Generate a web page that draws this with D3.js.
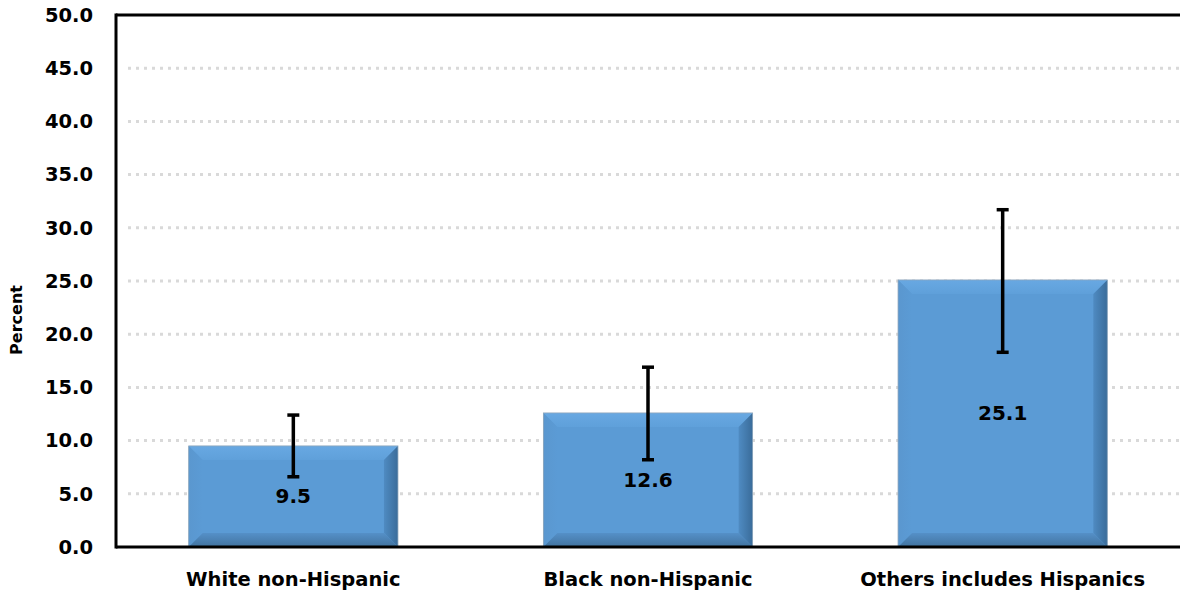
<!DOCTYPE html>
<html><head><meta charset="utf-8">
<script src="https://cdn.jsdelivr.net/npm/d3@7"></script>
<style>body{margin:0;background:#fff}svg{display:block}text{font-family:"DejaVu Sans",sans-serif;font-weight:bold;fill:#000}</style>
</head><body><svg id="c" width="1180" height="592"></svg>
<script>
const categories=["White non-Hispanic","Black non-Hispanic","Others includes Hispanics"];
const values=[9.5,12.6,25.1];
const lower=[6.6,8.2,18.3];
const upper=[12.4,16.9,31.7];
const ticks=[0,5,10,15,20,25,30,35,40,45,50];

const svg=d3.select("#c");
const m={l:116,r:0,t:15,b:45};
const W=1180,H=592;
const x=d3.scaleBand().domain(categories).range([m.l,W-m.r]).paddingInner(0.41).paddingOuter(0.205);
const y=d3.scaleLinear().domain([0,50]).range([H-m.b,m.t]);

const defs=svg.append("defs");
const mk=(id,x2,y2,stops)=>{const lg=defs.append("linearGradient").attr("id",id).attr("x1",0).attr("y1",0).attr("x2",x2).attr("y2",y2);
 stops.forEach(s=>lg.append("stop").attr("offset",s[0]).attr("stop-color",s[1]));};
mk("gR",1,0,[[0,"#4f8bc2"],[1,"#3a6c9a"]]);
mk("gL",1,0,[[0,"#5a97cf"],[1,"#5b9bd5"]]);
mk("gT",0,1,[[0,"#68a8e2"],[1,"#5fa0da"]]);
mk("gB",0,1,[[0,"#5590c8"],[1,"#41739f"]]);

// grid
svg.append("g").selectAll("line").data(ticks.filter(t=>t>0&&t<50)).join("line")
 .attr("x1",m.l+12).attr("x2",W).attr("y1",d=>y(d)).attr("y2",d=>y(d))
 .attr("stroke","#d9d9d9").attr("stroke-width",3).attr("stroke-dasharray","3,5");

// bars with bevel
const bev=14;
const g=svg.append("g");
categories.forEach((c,i)=>{
  const x0=x(c),x1=x0+x.bandwidth(),y0=y(values[i]),y1=y(0);
  const b=Math.min(bev,(y1-y0)/2);
  const gg=g.append("g");
  gg.append("rect").attr("x",x0).attr("y",y0).attr("width",x1-x0).attr("height",y1-y0).attr("fill","#5b9bd5");
  const poly=(pts,f)=>gg.append("polygon").attr("points",pts.map(p=>p.join(",")).join(" ")).attr("fill",f);
  poly([[x0,y0],[x1,y0],[x1-b,y0+b],[x0+b,y0+b]],"url(#gT)");
  poly([[x0,y0],[x0+b,y0+b],[x0+b,y1-b],[x0,y1]],"url(#gL)");
  poly([[x1,y0],[x1,y1],[x1-b,y1-b],[x1-b,y0+b]],"url(#gR)");
  poly([[x0,y1],[x1,y1],[x1-b,y1-b],[x0+b,y1-b]],"url(#gB)");
  gg.append("rect").attr("x",x0).attr("y",y0).attr("width",x1-x0).attr("height",y1-y0).attr("fill","none").attr("stroke","#8fa6bb").attr("stroke-width",0.8);
});

// error bars
const eb=svg.append("g");
categories.forEach((c,i)=>{
  const cx=x(c)+x.bandwidth()/2;
  eb.append("line").attr("x1",cx).attr("x2",cx).attr("y1",y(upper[i])).attr("y2",y(lower[i])).attr("stroke","#000").attr("stroke-width",3.5);
  [upper[i],lower[i]].forEach(v=>eb.append("line").attr("x1",cx-6).attr("x2",cx+6).attr("y1",y(v)).attr("y2",y(v)).attr("stroke","#000").attr("stroke-width",3.5));
});

// value labels
svg.append("g").selectAll("text").data(values).join("text")
 .attr("x",(d,i)=>x(categories[i])+x.bandwidth()/2).attr("y",d=>(y(d)+y(0))/2)
 .attr("text-anchor","middle").attr("dominant-baseline","central").style("font-size","20px").text(d=>d.toFixed(1));

// axes frame
svg.append("line").attr("x1",m.l).attr("x2",W).attr("y1",y(50)).attr("y2",y(50)).attr("stroke","#000").attr("stroke-width",3);
svg.append("line").attr("x1",m.l).attr("x2",W).attr("y1",y(0)).attr("y2",y(0)).attr("stroke","#000").attr("stroke-width",3);
svg.append("line").attr("x1",m.l).attr("x2",m.l).attr("y1",y(50)-1.5).attr("y2",y(0)+1.5).attr("stroke","#000").attr("stroke-width",3);

// y tick labels
const ya=svg.append("g").attr("transform",`translate(${m.l},0)`).call(d3.axisLeft(y).tickValues(ticks).tickFormat(d=>d.toFixed(1)).tickSize(0).tickPadding(23));
ya.select(".domain").remove();
ya.selectAll("text").style("font-size","19.5px").style("font-family","'DejaVu Sans',sans-serif").style("font-weight","bold");

// x labels
svg.append("g").selectAll("text").data(categories).join("text")
 .attr("x",d=>x(d)+x.bandwidth()/2).attr("y",586).attr("text-anchor","middle").style("font-size","19.5px").text(d=>d);

// y title
svg.append("text").attr("transform","translate(22,320) rotate(-90)").attr("text-anchor","middle").style("font-size","16px").text("Percent");
</script></body></html>
